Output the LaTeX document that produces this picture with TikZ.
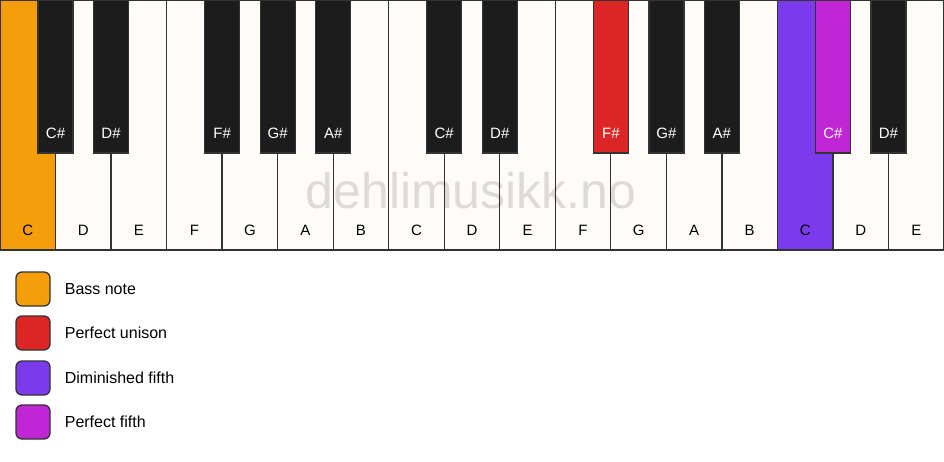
\documentclass[tikz,border=0pt]{standalone}
\usepackage{fontspec}
\setmainfont{Liberation Sans}
\usepackage{xcolor}
\usepackage{tikz}
\usetikzlibrary{positioning}

\definecolor{keywhite}{HTML}{FDFCF9}
\definecolor{keyblack}{HTML}{1C1C1C}
\definecolor{keyline}{HTML}{333333}
\definecolor{bassorange}{HTML}{F59E0B}
\definecolor{unisonred}{HTML}{DC2626}
\definecolor{dimpurple}{HTML}{7C3AED}
\definecolor{fifthmagenta}{HTML}{C026D3}

\tikzset{
    whitekey/.style={draw=keyline, line width=1.3pt, minimum width=55.53pt, minimum height=250pt,
        anchor=north west, inner sep=0pt, outer sep=0pt},
    blackkey/.style={draw=keyline, line width=1.3pt, minimum width=35pt, minimum height=153pt,
        anchor=north, inner sep=0pt, outer sep=0pt},
    whitelabel/.style={text=black, font=\fontsize{15}{18}\selectfont, inner sep=0pt},
    blacklabel/.style={text=white, font=\fontsize{15}{18}\selectfont, inner sep=0pt},
    legendbox/.style={draw=keyline, line width=1.3pt, rounded corners=6pt, minimum size=34pt,
        inner sep=0pt},
    legendtext/.style={font=\fontsize{16}{19}\selectfont, inner sep=0pt, anchor=west},
}

\begin{document}
\begin{tikzpicture}[x=1pt, y=-1pt]
    \useasboundingbox[fill=white] (0, 0) rectangle (944, 461);

    % white keys
    \foreach \n/\c [count=\i from 0] in {C/bassorange, D/keywhite, E/keywhite, F/keywhite,
        G/keywhite, A/keywhite, B/keywhite, C/keywhite, D/keywhite, E/keywhite, F/keywhite,
        G/keywhite, A/keywhite, B/keywhite, C/dimpurple, D/keywhite, E/keywhite} {
        \node[whitekey, fill=\c] (w\i) at (\i*55.53, 0) {};
        \node[whitelabel] (n\i) at (\i*55.53+27.76, 230) {\n};
    }

    % watermark
    \node[text=black, text opacity=0.13, font=\fontsize{50}{58}\selectfont] (mark) at (471, 191) {dehlimusikk.no};

    % black keys
    \foreach \b/\n/\c in {1/C\#/keyblack, 2/D\#/keyblack, 4/F\#/keyblack, 5/G\#/keyblack,
        6/A\#/keyblack, 8/C\#/keyblack, 9/D\#/keyblack, 11/F\#/unisonred, 12/G\#/keyblack,
        13/A\#/keyblack, 15/C\#/fifthmagenta, 16/D\#/keyblack} {
        \node[blackkey, fill=\c] (b\b) at (\b*55.53, 0) {};
        \node[blacklabel] (m\b) at (\b*55.53, 133) {\n};
    }

    % legend
    \node[legendbox, fill=bassorange] (l1) at (33, 289) {};
    \node[legendbox, fill=unisonred] (l2) at (33, 333) {};
    \node[legendbox, fill=dimpurple] (l3) at (33, 378) {};
    \node[legendbox, fill=fifthmagenta] (l4) at (33, 422) {};
    \node[legendtext, right=14pt of l1] (t1) {Bass note};
    \node[legendtext, right=14pt of l2] (t2) {Perfect unison};
    \node[legendtext, right=14pt of l3] (t3) {Diminished fifth};
    \node[legendtext, right=14pt of l4] (t4) {Perfect fifth};
\end{tikzpicture}
\end{document}
